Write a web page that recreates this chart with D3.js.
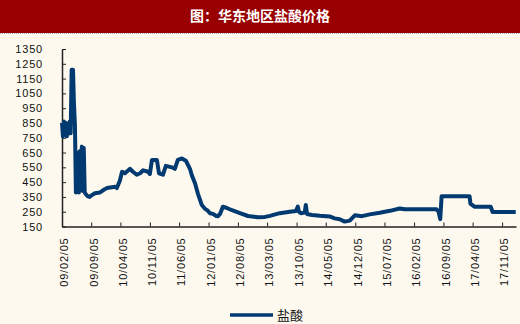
<!DOCTYPE html>
<meta charset="utf-8">
<style>
body { margin: 0; background: #fdf9ef; }
.axis text { font-family: Arial, "Liberation Sans", sans-serif; font-size: 11px; fill: #111; letter-spacing: 0.8px; }
.axis path, .axis line { stroke: #222; }
</style>
<body>
<script src="https://d3js.org/d3.v7.min.js"></script>
<script>

// price of hydrochloric acid, east China (yuan/t)
var dates = [
  "2009-02-05","2009-02-12","2009-02-19","2009-02-26","2009-03-05","2009-03-12","2009-03-19","2009-03-26","2009-04-02","2009-04-09",
  "2009-04-16","2009-04-26","2009-05-02","2009-05-10","2009-05-17","2009-05-24","2009-05-28","2009-06-04","2009-06-08","2009-06-15",
  "2009-06-22","2009-06-29","2009-07-06","2009-07-13","2009-07-20","2009-07-27","2009-08-10","2009-08-24","2009-09-07","2009-10-02",
  "2009-11-08","2009-12-08","2009-12-29","2010-02-26","2010-03-10","2010-04-01","2010-04-17","2010-05-08","2010-06-14","2010-07-05",
  "2010-08-02","2010-08-26","2010-09-17","2010-10-23","2010-11-05","2010-11-20","2010-12-26","2011-01-10","2011-02-08","2011-03-01",
  "2011-04-14","2011-05-05","2011-05-27","2011-06-26","2011-07-24","2011-08-23","2011-09-06","2011-09-28","2011-10-20","2011-11-08",
  "2011-11-17","2011-12-10","2012-01-01","2012-01-15","2012-02-06","2012-03-01","2012-03-14","2012-03-28","2012-04-18","2012-05-17",
  "2012-06-23","2012-08-20","2012-10-17","2012-12-28","2013-02-18","2013-03-25","2013-06-05","2013-08-17","2013-09-30","2013-10-14",
  "2013-10-22","2013-11-05","2013-12-03","2013-12-11","2013-12-20","2014-01-25","2014-03-22","2014-06-02","2014-07-08","2014-08-14",
  "2014-09-20","2014-10-26","2014-12-02","2015-01-23","2015-03-20","2015-06-01","2015-08-14","2015-10-23","2015-11-29","2016-07-17",
  "2016-08-01","2016-08-13","2016-08-23","2017-03-14","2017-03-20","2017-04-18","2017-08-14","2017-08-28","2018-02-12"
];
var prices = [
  850, 760, 860, 770, 850, 760, 840, 780, 860, 780,
  1210, 1210, 1000, 830, 380, 620, 400, 650, 380, 660,
  400, 690, 390, 680, 380, 370, 355, 350, 360, 375,
  380, 400, 410, 419, 410, 460, 520, 510, 540, 520,
  500, 510, 530, 520, 505, 600, 600, 510, 500, 560,
  550, 540, 600, 610, 595, 540, 495, 444, 371, 320,
  295, 270, 255, 240, 235, 221, 220, 235, 284, 275,
  260, 240, 221, 212, 215, 222, 240, 250, 255, 284,
  250, 240, 245, 295, 235, 228, 222, 218, 205, 199,
  183, 190, 226, 220, 232, 243, 256, 272, 266, 266,
  250, 200, 355, 355, 305, 284, 284, 248, 248
];
var tickLabels = ["09/02/05","09/09/05","10/04/05","10/11/05","11/06/05","12/01/05","12/08/05","13/03/05",
                  "13/10/05","14/05/05","14/12/05","15/07/05","16/02/05","16/09/05","17/04/05","17/11/05"];
var yTicks = [150,250,350,450,550,650,750,850,950,1050,1150,1250,1350];
var title = "图：华东地区盐酸价格";
var seriesName = "盐酸";

var width = 520, height = 324;
var parseDate = d3.timeParse("%Y-%m-%d");
var parseTick = d3.timeParse("%y/%m/%d");

var data = dates.map(function(d, i) { return {date: parseDate(d), value: prices[i]}; });

var svg = d3.select("body").append("svg")
    .attr("width", width)
    .attr("height", height);

svg.append("rect")
    .attr("width", width).attr("height", height)
    .attr("fill", "#fdf9ef");

// title bar
svg.append("rect")
    .attr("width", width).attr("height", 33)
    .attr("fill", "#990000");
svg.append("line")
    .attr("x1", 0).attr("x2", width).attr("y1", 33.5).attr("y2", 33.5)
    .attr("stroke", "#9aa3c8").attr("stroke-dasharray", "1,1");
svg.append("text")
    .attr("x", 260).attr("y", 21)
    .attr("text-anchor", "middle")
    .attr("fill", "#fff")
    .style("font-family", "'Noto Sans CJK SC', sans-serif")
    .style("font-size", "14px")
    .style("font-weight", "bold")
    .text(title);

// scales
var x = d3.scaleTime()
    .domain([parseDate("2009-02-05"), parseDate("2018-02-14")])
    .range([62, 516]);
var y = d3.scaleLinear()
    .domain([150, 1350])
    .range([226.5, 49]);

// x axis
var xAxis = svg.append("g")
    .attr("class", "axis")
    .attr("transform", "translate(0,226.5)")
    .call(d3.axisBottom(x)
      .tickValues(tickLabels.map(parseTick))
      .tickFormat(d3.timeFormat("%y/%m/%d"))
      .tickSizeInner(-4).tickSizeOuter(0));
xAxis.select(".domain").attr("stroke-width", 1.5);
xAxis.selectAll("text")
    .attr("transform", "rotate(-90)")
    .attr("text-anchor", "end")
    .attr("x", -11).attr("y", 2)
    .attr("dy", "0.35em");

// y axis
var yAxis = svg.append("g")
    .attr("class", "axis")
    .attr("transform", "translate(62,0)")
    .call(d3.axisLeft(y)
      .tickValues(yTicks)
      .tickFormat(d3.format("d"))
      .tickSizeInner(-4).tickSizeOuter(0));
yAxis.select(".domain").attr("stroke-width", 1.5);
yAxis.selectAll("text").attr("x", -19);

// price line
var line = d3.line()
    .x(function(d) { return x(d.date); })
    .y(function(d) { return y(d.value); });

svg.append("path")
    .datum(data)
    .attr("fill", "none")
    .attr("stroke", "#003a70")
    .attr("stroke-width", 4)
    .attr("stroke-linejoin", "round")
    .attr("d", line);

// legend
svg.append("line")
    .attr("x1", 230).attr("x2", 273).attr("y1", 315).attr("y2", 315)
    .attr("stroke", "#003a70").attr("stroke-width", 3.5);
svg.append("text")
    .attr("x", 277).attr("y", 320)
    .style("font-family", "'Noto Sans CJK SC', sans-serif")
    .style("font-size", "13px")
    .attr("fill", "#111")
    .text(seriesName);

</script>
</body>
